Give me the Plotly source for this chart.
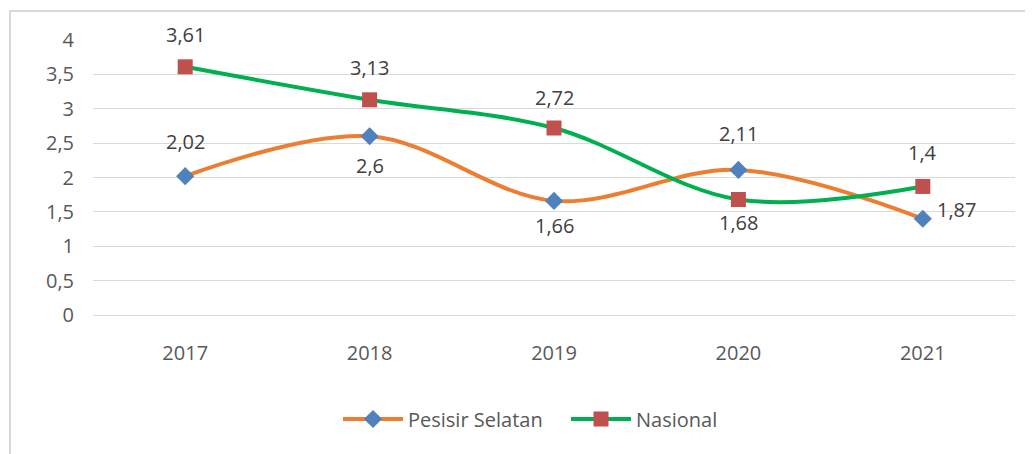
import plotly.graph_objects as go

years = [2017, 2018, 2019, 2020, 2021]
year_labels = ["2017", "2018", "2019", "2020", "2021"]
pesisir = [2.02, 2.6, 1.66, 2.11, 1.4]
nasional = [3.61, 3.13, 2.72, 1.68, 1.87]
# data labels as displayed in the picture
pesisir_labels = ["2,02", "2,6", "1,66", "2,11", "1,87"]
nasional_labels = ["3,61", "3,13", "2,72", "1,68", "1,4"]
y_ticks = [0, 0.5, 1, 1.5, 2, 2.5, 3, 3.5, 4]
y_tick_text = ["0", "0,5", "1", "1,5", "2", "2,5", "3", "3,5", "4"]

# label offsets (styling)
pesisir_shift = [(0, 35), (0, -29), (0, -25), (0, 36), (34, 9)]
nasional_shift = [(0, 32), (0, 32), (0, 31), (0, -23), (0, 34)]

FONT = "Open Sans"
FS = 20
fig = go.Figure()
fig.add_trace(go.Scatter(
    x=years, y=pesisir, name="Pesisir Selatan", mode="lines+markers",
    line=dict(color="#ED7D31", width=4, shape="spline", smoothing=1),
    marker=dict(symbol="diamond", size=14, color="#4F81BD"),
))
fig.add_trace(go.Scatter(
    x=years, y=nasional, name="Nasional", mode="lines+markers",
    line=dict(color="#00B050", width=4, shape="spline", smoothing=1),
    marker=dict(symbol="square", size=15, color="#C0504D"),
))

annotations = []
for vals, labels, shifts in [(pesisir, pesisir_labels, pesisir_shift),
                             (nasional, nasional_labels, nasional_shift)]:
    for x, y, t, (dx, dy) in zip(years, vals, labels, shifts):
        annotations.append(dict(
            x=x, y=y, xref="x", yref="y", text=t, showarrow=False, xshift=dx, yshift=dy,
            font=dict(family=FONT, size=FS, color="#404040"),
        ))

OFF = 8  # page body margin
W, H = 1033, 454
L, R, T, B = 93 - OFF, 18 + OFF, 40 - OFF, 139 + OFF
pw, ph = W - L - R, H - T - B

def px2paper(px, py):
    return (px - OFF - L) / pw, (H - B - (py - OFF)) / ph

x0, y0 = px2paper(10, 11)
x1, y1 = px2paper(1045, 480)
lx, ly = px2paper(338, 419)

fig.update_layout(
    width=W, height=H,
    margin=dict(l=L, r=R, t=T, b=B, autoexpand=False),
    paper_bgcolor="white", plot_bgcolor="white",
    font=dict(family=FONT, size=FS, color="#595959"),
    showlegend=True,
    legend=dict(orientation="h", x=lx, xanchor="left", y=ly, yanchor="middle",
                font=dict(family=FONT, size=FS, color="#595959"), itemwidth=60,
                entrywidth=153, entrywidthmode="pixels",
                traceorder="normal"),
    annotations=annotations,
    shapes=[dict(type="rect", xref="paper", yref="paper", x0=x0, y0=y1, x1=x1, y1=y0,
                 line=dict(color="#d9d9d9", width=2), fillcolor="rgba(0,0,0,0)", layer="below")],
    xaxis=dict(range=[2016.5, 2021.5], tickvals=years, ticktext=year_labels,
               showgrid=False, showline=True, linecolor="#d9d9d9", linewidth=1,
               ticks="", ticklabelstandoff=20, zeroline=False,
               tickfont=dict(family=FONT, size=FS, color="#595959")),
    yaxis=dict(range=[0, 4], tickvals=y_ticks, ticktext=y_tick_text,
               showgrid=True, gridcolor="#d9d9d9", gridwidth=1, zeroline=False,
               showline=False, ticks="", ticklabelstandoff=18,
               tickfont=dict(family=FONT, size=FS, color="#595959")),
)

fig.write_html("out.html")
